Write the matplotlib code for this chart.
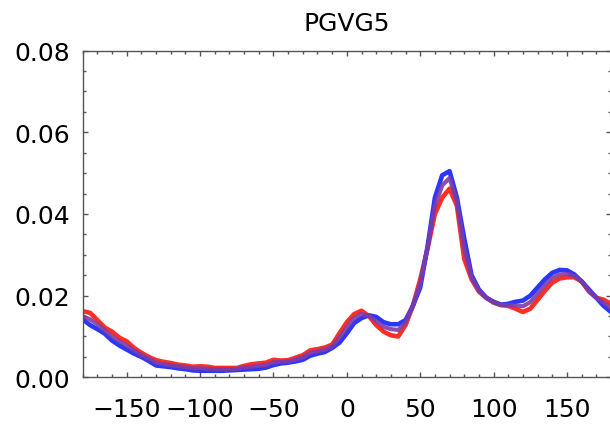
import numpy as np
import matplotlib
matplotlib.use("Agg")
import matplotlib.pyplot as plt
from matplotlib.ticker import MultipleLocator

# angle grid (degrees)
angles = list(range(-180, 185, 5))

# distributions
red_vals = [0.0162, 0.0158, 0.0140, 0.0122, 0.0112, 0.0097, 0.0088, 0.0072, 0.0060, 0.0050,
            0.0042, 0.0038, 0.0035, 0.0031, 0.0029, 0.0026, 0.0027, 0.0026, 0.0023, 0.0023,
            0.0023, 0.0023, 0.0028, 0.0032, 0.0034, 0.0036, 0.0043, 0.0041, 0.0042, 0.0048,
            0.0054, 0.0066, 0.0069, 0.0073, 0.0080, 0.0108, 0.0135, 0.0155, 0.0163, 0.0150,
            0.0128, 0.0112, 0.0103, 0.0100, 0.0128, 0.0175, 0.0240, 0.0315, 0.0400, 0.0440,
            0.0462, 0.0420, 0.0290, 0.0240, 0.0210, 0.0195, 0.0183, 0.0177, 0.0175, 0.0168,
            0.0160, 0.0168, 0.0190, 0.0212, 0.0232, 0.0242, 0.0245, 0.0245, 0.0235, 0.0210,
            0.0195, 0.0190, 0.0180]

mid_vals = [0.0150, 0.0142, 0.0130, 0.0115, 0.0100, 0.0088, 0.0078, 0.0066, 0.0055, 0.0046,
            0.0036, 0.0032, 0.0030, 0.0027, 0.0025, 0.0022, 0.0022, 0.0021, 0.0020, 0.0020,
            0.0020, 0.0021, 0.0024, 0.0026, 0.0028, 0.0030, 0.0037, 0.0038, 0.0039, 0.0044,
            0.0049, 0.0060, 0.0064, 0.0068, 0.0076, 0.0097, 0.0122, 0.0145, 0.0155, 0.0151,
            0.0138, 0.0124, 0.0118, 0.0116, 0.0134, 0.0175, 0.0230, 0.0318, 0.0420, 0.0470,
            0.0488, 0.0430, 0.0315, 0.0245, 0.0212, 0.0195, 0.0184, 0.0177, 0.0177, 0.0176,
            0.0174, 0.0184, 0.0205, 0.0226, 0.0244, 0.0252, 0.0253, 0.0248, 0.0235, 0.0212,
            0.0195, 0.0183, 0.0170]

blue_vals = [0.0142, 0.0128, 0.0118, 0.0107, 0.0090, 0.0078, 0.0068, 0.0058, 0.0050, 0.0040,
             0.0029, 0.0027, 0.0025, 0.0022, 0.0020, 0.0017, 0.0016, 0.0016, 0.0016, 0.0016,
             0.0017, 0.0018, 0.0019, 0.0020, 0.0021, 0.0024, 0.0030, 0.0034, 0.0036, 0.0039,
             0.0043, 0.0053, 0.0058, 0.0062, 0.0072, 0.0085, 0.0108, 0.0133, 0.0145, 0.0152,
             0.0148, 0.0135, 0.0130, 0.0130, 0.0140, 0.0175, 0.0220, 0.0320, 0.0440, 0.0495,
             0.0505, 0.0440, 0.0340, 0.0250, 0.0215, 0.0195, 0.0185, 0.0178, 0.0180, 0.0185,
             0.0188, 0.0200, 0.0220, 0.0240, 0.0256, 0.0263, 0.0262, 0.0252, 0.0235, 0.0215,
             0.0195, 0.0175, 0.0160]

title = "PGVG5"

fig = plt.figure(figsize=(6.1, 4.27), dpi=100)
ax = fig.add_axes([0.1356, 0.114, 0.866, 0.765])

# red first, blue, then the purple one on top
ax.plot(angles, red_vals, color="#ff2418", lw=3.3, alpha=0.95)
ax.plot(angles, blue_vals, color="#1e2cff", lw=3.3, alpha=0.95)
ax.plot(angles, mid_vals, color="#7e3ca6", lw=3.0, alpha=0.9)

ax.set_xlim(-180, 180)
ax.set_ylim(0, 0.08)
ax.xaxis.set_major_locator(MultipleLocator(50))
ax.xaxis.set_minor_locator(MultipleLocator(10))
ax.yaxis.set_major_locator(MultipleLocator(0.02))
ax.yaxis.set_minor_locator(MultipleLocator(0.005))
ax.yaxis.set_major_formatter(plt.FuncFormatter(lambda v, p: f"{v:.2f}"))

for s in ax.spines.values():
    s.set_color("#555555")
    s.set_linewidth(1.0)

ax.tick_params(which="both", direction="in", top=True, right=True, colors="#555555",
               width=1.0, labelcolor="black", labelsize=18)
ax.tick_params(which="major", length=3.3)
ax.tick_params(which="minor", length=2.4)
ax.tick_params(axis="x", which="major", pad=14)
ax.tick_params(axis="y", which="major", pad=9)

ax.set_title(title, fontsize=18, pad=15)

fig.savefig("out.png", dpi=100)
